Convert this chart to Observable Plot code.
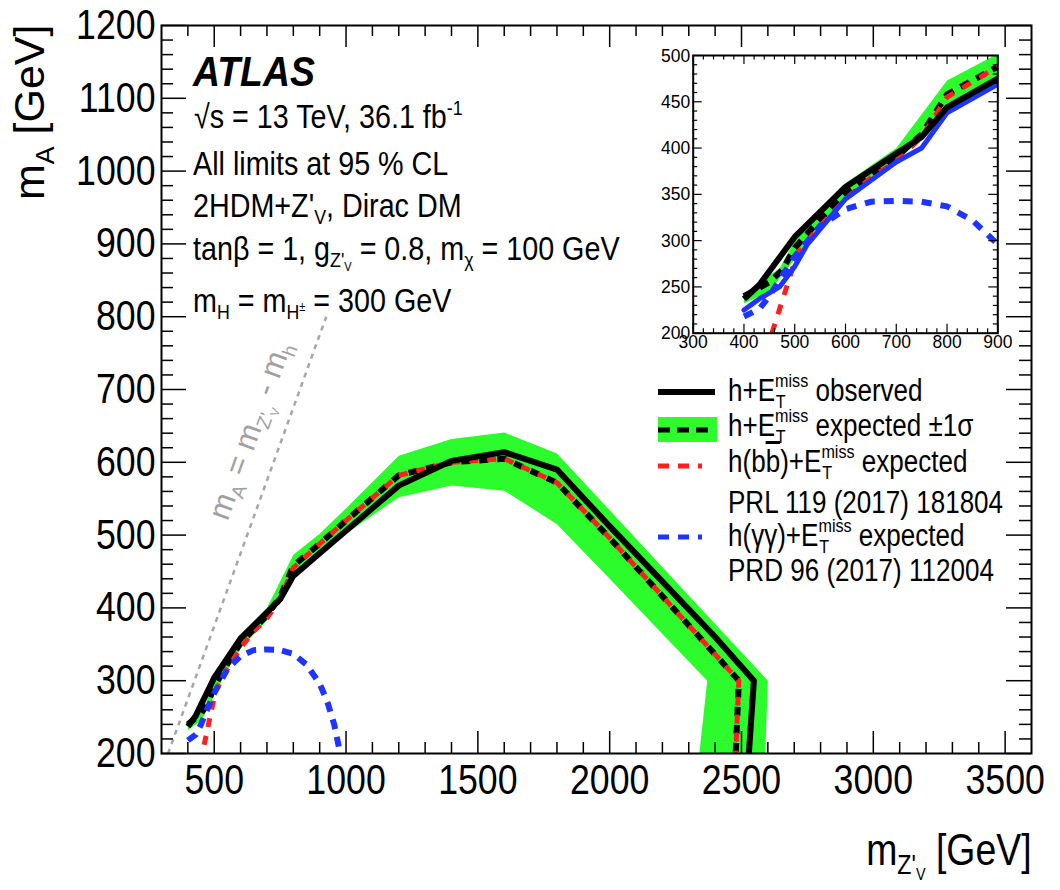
<!DOCTYPE html>
<html><head><meta charset="utf-8">
<script src="https://cdn.jsdelivr.net/npm/d3@7"></script>
<script src="https://cdn.jsdelivr.net/npm/@observablehq/plot@0.6"></script>
<style>
body{margin:0;background:#fff;}
#wrap{position:relative;width:1060px;height:890px;overflow:hidden;background:#fff;font-family:"Liberation Sans",Arial,sans-serif;}
#wrap svg{position:absolute;}
.t{position:absolute;white-space:nowrap;color:#000;line-height:1;}
.t sub{font-size:.62em;vertical-align:-.35em;line-height:0;}
.t sup{font-size:.62em;vertical-align:.62em;line-height:0;}
.ss{display:inline-block;position:relative;height:0;font-size:.62em;line-height:1;vertical-align:baseline;}
.ss .up{position:relative;top:-.72em;}
.ss .dn{position:absolute;left:.05em;top:.38em;}
</style></head>
<body><div id="wrap"></div>
<script>
// ---------------- data ----------------
// [mZ' (GeV), mA (GeV)]
const observed = [[400,237],[430,252],[500,304],[600,358],[700,394],[750,412],[800,444],[900,475],[1000,506],[1200,568],[1400,602],[1600,614],[1800,590],[2000,512],[2200,436],[2400,360],[2547,300],[2528,200]];
const expected = [[400,240],[450,255],[475,268],[500,292],[550,323],[600,352],[700,390],[750,415],[800,458],[900,488],[1000,520],[1200,582],[1400,600],[1600,605],[1800,572],[2000,496],[2200,416],[2400,336],[2490,300],[2478,200]];
const bandUpper = [[400,241],[430,255],[470,270],[500,300],[550,330],[600,362],[700,400],[800,473],[900,502],[1000,537],[1200,609],[1400,632],[1600,641],[1800,612],[2000,534],[2200,456],[2400,378],[2600,300],[2590,200]];
const bandLower = [[400,232],[450,245],[500,280],[550,315],[600,344],[700,383],[800,445],[900,476],[1000,502],[1200,552],[1400,568],[1600,561],[1800,515],[2000,440],[2200,364],[2370,300],[2340,200]];
const bbExpected = [[455,200],[480,243],[505,286],[550,316],[600,345],[650,368],[700,386],[750,412],[800,455],[900,488],[1000,520],[1200,582],[1400,600],[1600,605],[1800,572],[2000,496],[2200,416],[2400,336],[2490,300],[2478,200]];
const yyExpected = [[400,218],[430,226],[450,240],[475,262],[500,283],[550,316],[600,334],[650,342],[700,343],[750,342],[800,337],[850,322],[900,296],[930,270],[955,240],[975,205]];
const yyInsetSolid = [[400,225],[430,237],[470,250],[500,272],[525,296],[600,345],[700,385],[750,400],[800,438],[900,469]];
const diagonal = [[325,200],[925,800]]; // mA = mZ' - mh

const xTicks = [500,1000,1500,2000,2500,3000,3500];
const yTicks = [200,300,400,500,600,700,800,900,1000,1100,1200];
const insetXTicks = [300,400,500,600,700,800,900];
const insetYTicks = [200,250,300,350,400,450,500];

// ---------------- style ----------------
const GREEN = "#2cfb2c", RED = "#ff1f1f", BLUE = "#1f35ff", GRAY = "#a6a6a6";
const FONT = '"Liberation Sans",Arial,sans-serif';
const wrap = document.getElementById("wrap");
const xy = {x: d => d[0], y: d => d[1]};
const bandPoly = [...bandUpper, ...bandLower.slice().reverse()];
const fmt = d => String(d);

// squeeze tick-label glyphs horizontally (narrow Helvetica look), once in the DOM
function condense(svg, s) {
  svg.querySelectorAll('g[aria-label$="tick label"] text').forEach(t => {
    const L = t.getComputedTextLength();
    if (L > 0) {
      t.setAttribute("textLength", L * s);
      t.setAttribute("lengthAdjust", "spacingAndGlyphs");
    }
  });
}

// ---------------- main plot ----------------
const W = 1060, H = 890, mT = 25, mL = 161, mR = 29, mB = 137;
const ph = H - mT - mB, pw = W - mL - mR;
const xMinor = d3.range(400, 3600, 100).filter(v => v % 500 !== 0);
const yMinor = d3.range(220, 1200, 20).filter(v => v % 100 !== 0);

const main = Plot.plot({
  width: W, height: H, marginTop: mT, marginLeft: mL, marginRight: mR, marginBottom: mB,
  x: {domain: [300, 3600]}, y: {domain: [200, 1200]},
  style: {fontFamily: FONT, background: "transparent", color: "#000"},
  marks: [
    Plot.line(bandPoly, {...xy, fill: GREEN, stroke: "none", clip: true}),
    Plot.line(diagonal, {...xy, stroke: GRAY, strokeWidth: 2.5, strokeDasharray: "5,5", strokeLinecap: "butt"}),
    Plot.line(expected, {...xy, stroke: "#000", strokeWidth: 6, strokeDasharray: "9,9", strokeLinecap: "butt", clip: true}),
    Plot.line(bbExpected, {...xy, stroke: RED, strokeWidth: 5, strokeDasharray: "9,9", strokeDashoffset: 9, strokeLinecap: "butt", clip: true}),
    Plot.line(observed, {...xy, stroke: "#000", strokeWidth: 6, strokeLinecap: "butt", clip: true}),
    Plot.line(yyExpected, {...xy, stroke: BLUE, strokeWidth: 6, strokeDasharray: "10,8", strokeLinecap: "butt", clip: true}),
    Plot.tickX(xTicks, {x: d => d, insetTop: ph - 22, strokeWidth: 1.5}),
    Plot.tickX(xMinor, {x: d => d, insetTop: ph - 11, strokeWidth: 1.5}),
    Plot.tickX(xTicks, {x: d => d, insetBottom: ph - 22, strokeWidth: 1.5}),
    Plot.tickX(xMinor, {x: d => d, insetBottom: ph - 11, strokeWidth: 1.5}),
    Plot.tickY(yTicks, {y: d => d, insetRight: pw - 25, strokeWidth: 1.5}),
    Plot.tickY(yMinor, {y: d => d, insetRight: pw - 12, strokeWidth: 1.5}),
    Plot.tickY(yTicks, {y: d => d, insetLeft: pw - 25, strokeWidth: 1.5}),
    Plot.tickY(yMinor, {y: d => d, insetLeft: pw - 12, strokeWidth: 1.5}),
    Plot.frame({stroke: "#000", strokeWidth: 2}),
    Plot.axisX(xTicks, {tickSize: 0, tickPadding: 11, fontSize: 42, tickFormat: fmt, label: null}),
    Plot.axisY(yTicks, {tickSize: 0, tickPadding: 6, fontSize: 42, tickFormat: fmt, label: null})
  ]
});
main.style.left = "0px"; main.style.top = "0px";
wrap.appendChild(main);
condense(main, 0.85);

// ---------------- inset ----------------
const iW = 400, iH = 320, iL = 62.7, iT = 15, iR = 32.7, iB = 27.3;
const iph = iH - iT - iB, ipw = iW - iL - iR;
const ixMinor = d3.range(320, 900, 20).filter(v => v % 100 !== 0);
const iyMinor = d3.range(210, 500, 10).filter(v => v % 50 !== 0);
const inset = Plot.plot({
  width: iW, height: iH, marginTop: iT, marginLeft: iL, marginRight: iR, marginBottom: iB,
  x: {domain: [300, 900]}, y: {domain: [200, 500]},
  style: {fontFamily: FONT, background: "transparent", color: "#000"},
  marks: [
    Plot.line(bandPoly, {...xy, fill: GREEN, stroke: "none", clip: true}),
    Plot.line(expected, {...xy, stroke: "#000", strokeWidth: 6, strokeDasharray: "10,8", strokeLinecap: "butt", clip: true}),
    Plot.line(bbExpected, {...xy, stroke: RED, strokeWidth: 5, strokeDasharray: "10,10", strokeLinecap: "butt", clip: true}),
    Plot.line(yyInsetSolid, {...xy, stroke: BLUE, strokeWidth: 5, clip: true}),
    Plot.line(observed, {...xy, stroke: "#000", strokeWidth: 6, strokeLinecap: "butt", clip: true}),
    Plot.line(yyExpected, {...xy, stroke: BLUE, strokeWidth: 6, strokeDasharray: "10,9", strokeLinecap: "butt", clip: true}),
    Plot.tickX(insetXTicks, {x: d => d, insetTop: iph - 9, strokeWidth: 1.2}),
    Plot.tickX(ixMinor, {x: d => d, insetTop: iph - 4.5, strokeWidth: 1.2}),
    Plot.tickX(insetXTicks, {x: d => d, insetBottom: iph - 9, strokeWidth: 1.2}),
    Plot.tickX(ixMinor, {x: d => d, insetBottom: iph - 4.5, strokeWidth: 1.2}),
    Plot.tickY(insetYTicks, {y: d => d, insetRight: ipw - 9, strokeWidth: 1.2}),
    Plot.tickY(iyMinor, {y: d => d, insetRight: ipw - 4.5, strokeWidth: 1.2}),
    Plot.tickY(insetYTicks, {y: d => d, insetLeft: ipw - 9, strokeWidth: 1.2}),
    Plot.tickY(iyMinor, {y: d => d, insetLeft: ipw - 4.5, strokeWidth: 1.2}),
    Plot.frame({stroke: "#000", strokeWidth: 2}),
    Plot.axisX(insetXTicks, {tickSize: 0, tickPadding: 1, fontSize: 19, tickFormat: fmt, label: null}),
    Plot.axisY(insetYTicks, {tickSize: 0, tickPadding: 3, fontSize: 19, tickFormat: fmt, label: null})
  ]
});
inset.style.left = "630px"; inset.style.top = "40px";
wrap.appendChild(inset);
condense(inset, 0.92);

// ---------------- text helpers ----------------
function txt(html, {x, base, fs, right, sx = 1, style = ""}) {
  const d = document.createElement("div");
  d.className = "t";
  d.style.cssText = style;
  d.style.fontSize = fs + "px";
  d.style.top = (base - 0.85 * fs) + "px";
  if (right != null) { d.style.right = right + "px"; d.style.transformOrigin = "100% 50%"; }
  else { d.style.left = x + "px"; d.style.transformOrigin = "0 50%"; }
  if (sx !== 1) d.style.transform = `scaleX(${sx})`;
  d.innerHTML = html;
  wrap.appendChild(d);
  return d;
}
const ET = 'E<span class="ss"><span class="up">miss</span><span class="dn">T</span></span>';

// ATLAS label block
const BS = 0.87, BF = 33;
txt("ATLAS", {x: 193, base: 87, fs: 42, sx: 0.89, style: "font-weight:bold;font-style:italic;"});
txt("√s = 13 TeV, 36.1 fb<sup>-1</sup>", {x: 194, base: 128, fs: BF, sx: BS});
txt("All limits at 95 % CL", {x: 193, base: 175, fs: BF, sx: BS});
txt("2HDM+Z'<sub>V</sub>, Dirac DM", {x: 193, base: 217, fs: BF, sx: BS});
txt("tanβ = 1, g<sub>Z'<sub>V</sub></sub> = 0.8, m<sub>χ</sub> = 100 GeV", {x: 193, base: 260, fs: BF, sx: BS});
txt("m<sub>H</sub> = m<sub>H<sup>±</sup></sub> = 300 GeV", {x: 193, base: 312, fs: BF, sx: BS});

// Legend text
const LX = 728, LFS = 31, LS = 0.84;
txt("h+" + ET + " observed", {x: LX, base: 401, fs: LFS, sx: LS});
txt("h+" + ET + " expected ±1σ", {x: LX, base: 436, fs: LFS, sx: LS});
txt('h(b<span style="text-decoration:overline">b</span>)+' + ET + " expected", {x: LX, base: 472, fs: LFS, sx: LS});
txt("PRL 119 (2017) 181804", {x: LX, base: 513, fs: LFS, sx: LS});
txt("h(γγ)+" + ET + " expected", {x: LX, base: 546, fs: LFS, sx: LS});
txt("PRD 96 (2017) 112004", {x: LX, base: 581, fs: LFS, sx: LS});

// Legend swatches
const leg = d3.create("svg").attr("width", 90).attr("height", 200)
  .style("left", "650px").style("top", "380px");
leg.append("line").attr("x1", 8).attr("x2", 65).attr("y1", 12).attr("y2", 12)
  .attr("stroke", "#000").attr("stroke-width", 6);
leg.append("rect").attr("x", 8).attr("y", 37).attr("width", 59).attr("height", 25).attr("fill", GREEN);
leg.append("line").attr("x1", 8).attr("x2", 62).attr("y1", 50).attr("y2", 50)
  .attr("stroke", "#000").attr("stroke-width", 5).attr("stroke-dasharray", "12,7");
leg.append("line").attr("x1", 8).attr("x2", 52).attr("y1", 86).attr("y2", 86)
  .attr("stroke", RED).attr("stroke-width", 5).attr("stroke-dasharray", "11,9");
leg.append("line").attr("x1", 8).attr("x2", 52).attr("y1", 157).attr("y2", 157)
  .attr("stroke", BLUE).attr("stroke-width", 5).attr("stroke-dasharray", "11,9");
wrap.appendChild(leg.node());

// Axis titles
txt("m<sub>Z'<sub>V</sub></sub> [GeV]", {right: 28, base: 865, fs: 44, sx: 0.85});
const YF = 43;
const yt = txt("m<sub>A</sub> [GeV]", {x: 0, base: 0.85 * YF, fs: YF});
yt.style.left = "0px"; yt.style.top = "0px"; yt.style.transformOrigin = "0 0";
yt.style.transform = `translate(${45 - 0.85 * YF}px, ${200}px) rotate(-90deg)`;

// Diagonal label
const dl = txt("m<sub>A</sub> = m<sub>Z'<sub>V</sub></sub> - m<sub>h</sub>", {x: 0, base: 0, fs: 31, style: "color:#a0a0a0;"});
const dw = dl.offsetWidth, dh = dl.offsetHeight;
dl.style.left = (250 - dw / 2) + "px"; dl.style.top = (430 - dh / 2) + "px";
dl.style.transformOrigin = "50% 50%"; dl.style.transform = "rotate(-70deg)";
</script>
</body></html>
